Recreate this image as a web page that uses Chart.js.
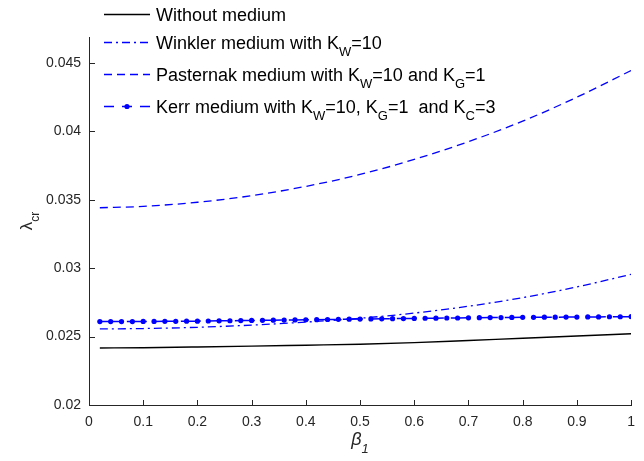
<!DOCTYPE html>
<html>
<head>
<meta charset="utf-8">
<script src="https://cdn.jsdelivr.net/npm/chart.js@4.4.1/dist/chart.umd.min.js"></script>
<style>
  body { margin: 0; background: #fff; }
  canvas { display: block; }
</style>
</head>
<body>
<canvas id="chart" width="644" height="461"></canvas>
<script>
// values
const betaValues = [0.02, 0.1, 0.2, 0.3, 0.4, 0.5, 0.6, 0.7, 0.8, 0.9, 1.0];
const withoutMedium = [0.02417, 0.02419, 0.02424, 0.02430, 0.02437, 0.02444, 0.02456, 0.02472, 0.02488, 0.02504, 0.02521];
const winklerMedium = [0.02556, 0.02559, 0.02568, 0.02584, 0.02606, 0.02634, 0.02672, 0.02722, 0.02785, 0.02863, 0.02955];
const pasternakMedium = [0.03442, 0.03452, 0.03482, 0.03530, 0.03598, 0.03685, 0.03795, 0.03925, 0.04075, 0.04250, 0.04445];

const kerrBeta = [0.02, 0.04, 0.06, 0.08, 0.10, 0.12, 0.14, 0.16, 0.18, 0.20,
  0.22, 0.24, 0.26, 0.28, 0.30, 0.32, 0.34, 0.36, 0.38, 0.40,
  0.42, 0.44, 0.46, 0.48, 0.50, 0.52, 0.54, 0.56, 0.58, 0.60,
  0.62, 0.64, 0.66, 0.68, 0.70, 0.72, 0.74, 0.76, 0.78, 0.80,
  0.82, 0.84, 0.86, 0.88, 0.90, 0.92, 0.94, 0.96, 0.98, 1.00];
const kerrMedium = [0.02610, 0.02610, 0.02610, 0.02610, 0.02611, 0.02611, 0.02612, 0.02612, 0.02613, 0.02613,
  0.02614, 0.02615, 0.02616, 0.02617, 0.02618, 0.02619, 0.02620, 0.02621, 0.02622, 0.02623,
  0.02624, 0.02625, 0.02626, 0.02627, 0.02628, 0.02629, 0.02630, 0.02631, 0.02632, 0.02633,
  0.02634, 0.02635, 0.02636, 0.02636, 0.02637, 0.02638, 0.02639, 0.02639, 0.02640, 0.02641,
  0.02641, 0.02642, 0.02642, 0.02643, 0.02643, 0.02644, 0.02644, 0.02645, 0.02645, 0.02646];

const xTicks = [0, 0.1, 0.2, 0.3, 0.4, 0.5, 0.6, 0.7, 0.8, 0.9, 1];
const yTicks = [0.02, 0.025, 0.03, 0.035, 0.04, 0.045];

const legendLabels = [
  "Without medium",
  "Winkler medium with K_W=10",
  "Pasternak medium with K_W=10 and K_G=1",
  "Kerr medium with K_W=10, K_G=1  and K_C=3"
];
const xTitle = "β_1";
const yTitle = "λ_{cr}";

const BLUE = "#0000ff";
const AXIS = "#262626";
const FONT = "'Liberation Sans', Arial, sans-serif";

function toPoints(xs, ys) {
  return xs.map((x, i) => ({ x: x, y: ys[i] }));
}

// "K_W" -> [{t:"K"},{t:"W",sub:true}], "_{cr}" for longer subscripts
function parseRich(str) {
  const parts = [];
  let buf = "";
  for (let i = 0; i < str.length; i++) {
    if (str[i] === "_") {
      if (buf) parts.push({ t: buf });
      buf = "";
      if (str[i + 1] === "{") {
        const end = str.indexOf("}", i);
        parts.push({ t: str.slice(i + 2, end), sub: true });
        i = end;
      } else {
        parts.push({ t: str[i + 1], sub: true });
        i++;
      }
    } else {
      buf += str[i];
    }
  }
  if (buf) parts.push({ t: buf });
  return parts;
}

function drawRich(ctx, str, x, y, size, style) {
  const parts = parseRich(str);
  const pre = style ? style + " " : "";
  let cx = x;
  parts.forEach(p => {
    const s = p.sub ? Math.round(size * 0.7) : size;
    ctx.font = pre + s + "px " + FONT;
    ctx.fillText(p.t, cx, p.sub ? y + size * 0.42 : y);
    cx += ctx.measureText(p.t).width;
  });
  return cx - x;
}

function measureRich(ctx, str, size, style) {
  const parts = parseRich(str);
  const pre = style ? style + " " : "";
  let w = 0;
  parts.forEach(p => {
    const s = p.sub ? Math.round(size * 0.7) : size;
    ctx.font = pre + s + "px " + FONT;
    w += ctx.measureText(p.t).width;
  });
  return w;
}

const decorPlugin = {
  id: "decor",
  afterDraw(chart) {
    const ctx = chart.ctx;
    const area = chart.chartArea;
    const xs = chart.scales.x;
    const ys = chart.scales.y;
    ctx.save();

    // inward tick marks
    ctx.strokeStyle = AXIS;
    ctx.lineWidth = 1;
    ctx.beginPath();
    xTicks.forEach(v => {
      const px = Math.round(xs.getPixelForValue(v)) + 0.5;
      ctx.moveTo(px, area.bottom);
      ctx.lineTo(px, area.bottom - 5);
    });
    yTicks.forEach(v => {
      const py = Math.round(ys.getPixelForValue(v)) + 0.5;
      ctx.moveTo(area.left, py);
      ctx.lineTo(area.left + 6, py);
    });
    ctx.stroke();

    // axis titles
    ctx.fillStyle = AXIS;
    ctx.textBaseline = "alphabetic";
    ctx.textAlign = "left";
    const xw = measureRich(ctx, xTitle, 18, "italic");
    drawRich(ctx, xTitle, (area.left + area.right) / 2 - xw / 2, 445, 18, "italic");

    ctx.save();
    ctx.translate(32, (area.top + area.bottom) / 2);
    ctx.rotate(-Math.PI / 2);
    const yw = measureRich(ctx, yTitle, 17);
    drawRich(ctx, yTitle, -yw / 2, 0, 17);
    ctx.restore();

    // legend (no box), lines to the left of the text
    const rowY = [14, 42, 74, 106];
    const x0 = 104, x1 = 150, tx = 156;
    legendLabels.forEach((label, i) => {
      const ds = chart.data.datasets[i];
      const y = rowY[i];
      ctx.save();
      ctx.strokeStyle = ds.borderColor;
      ctx.lineWidth = ds.borderWidth;
      ctx.setLineDash(i === 3 ? [10, 8] : (ds.borderDash || []));
      ctx.beginPath();
      ctx.moveTo(x0, y + 0.5);
      ctx.lineTo(x1, y + 0.5);
      ctx.stroke();
      if (ds.pointRadius > 0) {
        ctx.setLineDash([]);
        ctx.fillStyle = ds.pointBackgroundColor;
        ctx.beginPath();
        ctx.arc((x0 + x1) / 2, y + 0.5, ds.pointRadius, 0, Math.PI * 2);
        ctx.fill();
      }
      ctx.restore();
      ctx.fillStyle = "#000";
      drawRich(ctx, label, tx, y + 6.5, 18);
    });

    ctx.restore();
  }
};

new Chart(document.getElementById("chart"), {
  type: "line",
  data: {
    datasets: [
      {
        label: legendLabels[0],
        data: toPoints(betaValues, withoutMedium),
        borderColor: "#000000",
        borderWidth: 1.4,
        pointRadius: 0,
        cubicInterpolationMode: "monotone"
      },
      {
        label: legendLabels[1],
        data: toPoints(betaValues, winklerMedium),
        borderColor: BLUE,
        borderWidth: 1.3,
        borderDash: [8, 4, 2, 4],
        pointRadius: 0,
        cubicInterpolationMode: "monotone"
      },
      {
        label: legendLabels[2],
        data: toPoints(betaValues, pasternakMedium),
        borderColor: BLUE,
        borderWidth: 1.3,
        borderDash: [8, 5],
        pointRadius: 0,
        cubicInterpolationMode: "monotone"
      },
      {
        label: legendLabels[3],
        data: toPoints(kerrBeta, kerrMedium),
        borderColor: BLUE,
        borderWidth: 1.5,
        borderDash: [20, 7],
        pointRadius: 2.6,
        pointBorderWidth: 0,
        pointBackgroundColor: BLUE,
        pointBorderColor: BLUE
      }
    ]
  },
  options: {
    responsive: false,
    animation: false,
    events: [],
    layout: { padding: { top: 37, right: 12, left: 0, bottom: 0 } },
    plugins: {
      legend: { display: false },
      tooltip: { enabled: false }
    },
    scales: {
      x: {
        type: "linear",
        min: 0,
        max: 1,
        afterBuildTicks: s => { s.ticks = xTicks.map(v => ({ value: v })); },
        afterFit: s => { s.height = 56; },
        grid: { display: false, drawTicks: false },
        border: { display: true, color: AXIS, width: 1 },
        ticks: {
          padding: 9,
          color: AXIS,
          font: { family: FONT, size: 14 },
          maxRotation: 0,
          autoSkip: false,
          callback: v => String(Math.round(v * 10) / 10)
        }
      },
      y: {
        type: "linear",
        min: 0.02,
        max: 0.0469,
        afterBuildTicks: s => { s.ticks = yTicks.map(v => ({ value: v })); },
        afterFit: s => { s.width = 89; },
        grid: { display: false, drawTicks: false },
        border: { display: true, color: AXIS, width: 1 },
        ticks: {
          padding: 8,
          color: AXIS,
          font: { family: FONT, size: 14 },
          autoSkip: false,
          callback: v => String(Math.round(v * 1000) / 1000)
        }
      }
    }
  },
  plugins: [decorPlugin]
});
</script>
</body>
</html>
